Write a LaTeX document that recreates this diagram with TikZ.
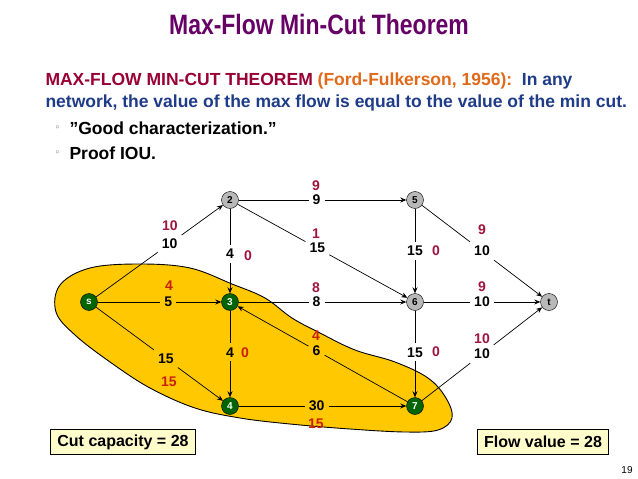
\documentclass[tikz,border=0pt]{standalone}
\usepackage{fontspec}
\setmainfont{Liberation Sans}
\usetikzlibrary{arrows.meta}
\definecolor{ttl}{HTML}{660066}
\definecolor{mx}{HTML}{990033}
\definecolor{ff}{HTML}{E06A1A}
\definecolor{bl}{HTML}{1F3C88}
\definecolor{rd}{HTML}{A0153E}
\definecolor{og}{HTML}{C8200A}
\definecolor{gr}{HTML}{006400}
\definecolor{blob}{HTML}{FFC800}
\tikzset{
 vg/.style={circle,draw=black,fill=gr,text=white,minimum size=17pt,inner sep=0pt,font=\fontsize{10}{10}\bfseries},
 vy/.style={circle,draw=black,fill=black!28,text=black,minimum size=17pt,inner sep=0pt,font=\fontsize{10}{10}\bfseries},
 capl/.style={font=\fontsize{14}{14}\bfseries,inner sep=4pt},
 fl/.style={font=\fontsize{14}{14}\bfseries,text=rd},
 fo/.style={font=\fontsize{14}{14}\bfseries,text=og},
 ed/.style={-{Stealth[length=6pt,width=5pt]},line width=0.7pt},
 ln/.style={line width=0.7pt},
 box/.style={draw=black,fill=yellow!20,line width=0.9pt,font=\fontsize{16}{16}\bfseries,minimum height=25pt,inner xsep=7pt}
}
\newcommand{\edg}[5]{\path (#1) -- node[capl,pos=#3](#5){#4} (#2); \draw[ln] (#1) -- (#5); \draw[ed] (#5) -- (#2);}
\begin{document}
\begin{tikzpicture}[x=1pt,y=-1pt]
\useasboundingbox (0,0) rectangle (638,479);
\fill[white] (0,0) rectangle (638,479);
\node[text=ttl,font=\fontsize{28}{28}\bfseries] (title) at (319,24) {\addfontfeature{FakeStretch=0.82}Max-Flow Min-Cut Theorem};
\node[anchor=west,font=\fontsize{17.5}{17.5}\bfseries,text=bl] (l1) at (42,81) {\textcolor{mx}{MAX-FLOW MIN-CUT THEOREM} \textcolor{ff}{(Ford-Fulkerson, 1956):}\ \ In any};
\node[anchor=west,font=\fontsize{17.5}{17.5}\bfseries,text=bl] (l2) at (42,103) {network, the value of the max flow is equal to the value of the min cut.};
\node[anchor=west,font=\fontsize{9}{9},text=black!50] (b1) at (52,128) {▫};
\node[anchor=west,font=\fontsize{17.5}{17.5}\bfseries] (t1) at (66,128) {\symbol{34}Good characterization.\symbol{34}};
\node[anchor=west,font=\fontsize{9}{9},text=black!50] (b2) at (52,153) {▫};
\node[anchor=west,font=\fontsize{17.5}{17.5}\bfseries] (t2) at (66,153) {Proof IOU.};
\draw[fill=blob,line width=0.9pt] plot[smooth cycle,tension=0.6] coordinates {(90,268)(140,264)(190,268)(232,284)(265,298)(292,318)(320,333)(355,350)(395,362)(428,378)(446,398)(452,418)(438,430)(405,432)(350,429)(290,424)(240,418)(195,408)(150,388)(110,362)(75,335)(56,312)(60,285)};
\node[vg] (s) at (89,302) {s};
\node[vy] (n2) at (230,200) {2};
\node[vg] (n3) at (230,302) {3};
\node[vg] (n4) at (230,406) {4};
\node[vy] (n5) at (415,200) {5};
\node[vy] (n6) at (415,302) {6};
\node[vg] (n7) at (415,406) {7};
\node[vy] (t) at (549,302) {t};
\edg{s}{n2}{0.58}{10}{e1}
\edg{s}{n3}{0.57}{5}{e2}
\edg{s}{n4}{0.55}{15}{e3}
\edg{n2}{n5}{0.465}{9}{e4}
\edg{n2}{n6}{0.47}{15}{e5}
\edg{n2}{n3}{0.53}{4}{e6}
\edg{n3}{n6}{0.465}{8}{e7}
\edg{n7}{n3}{0.535}{6}{e8}
\edg{n3}{n4}{0.48}{4}{e9}
\edg{n4}{n7}{0.465}{30}{e10}
\edg{n5}{n6}{0.5}{15}{e11}
\edg{n6}{n7}{0.48}{15}{e12}
\edg{n5}{t}{0.5}{10}{e13}
\edg{n6}{t}{0.5}{10}{e14}
\edg{n7}{t}{0.5}{10}{e15}
\node[fl] (f1) at (170,226) {10};
\node[fo] (f2) at (169,286) {4};
\node[fo] (f3) at (169,382) {15};
\node[fl] (f4) at (316,186) {9};
\node[fl] (f5) at (316,234) {1};
\node[fl] (f6) at (248,256) {0};
\node[fl] (f7) at (316,288) {8};
\node[fo] (f8) at (316,336) {4};
\node[fo] (f9) at (245,353) {0};
\node[fo] (f10) at (316,424) {15};
\node[fl] (f11) at (436,251) {0};
\node[fl] (f12) at (436,352) {0};
\node[fl] (f13) at (482,230) {9};
\node[fl] (f14) at (482,287) {9};
\node[fl] (f15) at (482,339) {10};
\node[box] (cut) at (123,442) {Cut capacity = 28};
\node[box] (flow) at (543,442) {Flow value = 28};
\node[font=\fontsize{7}{7}] (pg) at (627,470) {19};
\end{tikzpicture}
\end{document}
